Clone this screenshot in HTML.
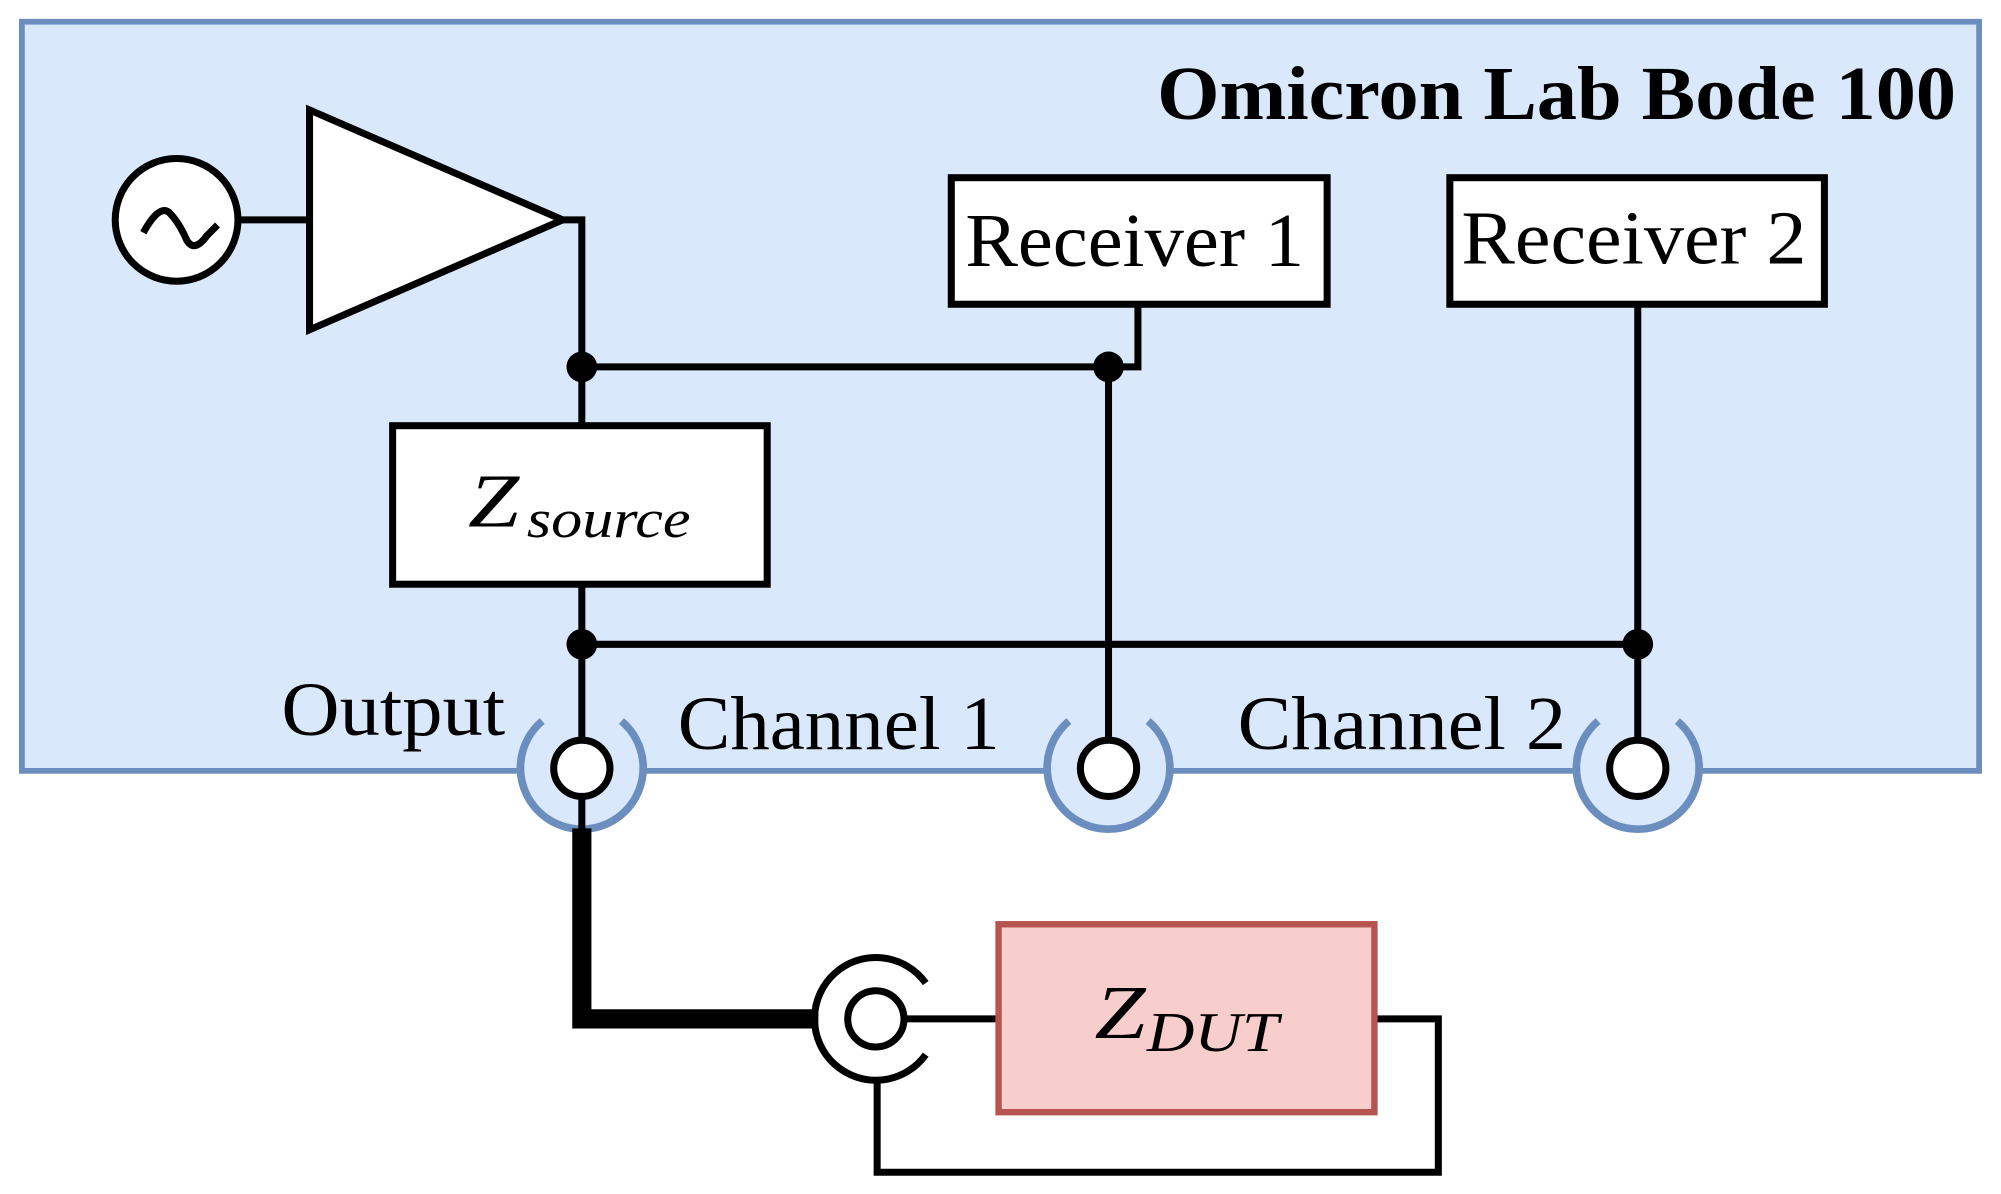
<!DOCTYPE html>
<html><head><meta charset="utf-8"><style>html,body{margin:0;padding:0;background:#fff}svg{display:block}</style></head>
<body>
<svg width="2001" height="1194" viewBox="0 0 1565 934" xmlns="http://www.w3.org/2000/svg" font-family="'Liberation Serif', serif">
<rect x="0" y="0" width="1565" height="934" fill="#fff"/>
<rect x="17" y="17" width="1531" height="586" fill="#dae8fc" stroke="#6c8ebf" stroke-width="4.5"/>
<text x="905" y="93" font-size="60" font-weight="bold" textLength="625" lengthAdjust="spacingAndGlyphs">Omicron Lab Bode 100</text>
<g>
<g transform="translate(455,601)"><circle r="48" fill="#dae8fc"/><path d="M-31 -37 A48 48 0 1 0 31 -37" fill="none" stroke="#6c8ebf" stroke-width="6"/></g>
<g transform="translate(867,601)"><circle r="48" fill="#dae8fc"/><path d="M-31 -37 A48 48 0 1 0 31 -37" fill="none" stroke="#6c8ebf" stroke-width="6"/></g>
<g transform="translate(1281,601)"><circle r="48" fill="#dae8fc"/><path d="M-31 -37 A48 48 0 1 0 31 -37" fill="none" stroke="#6c8ebf" stroke-width="6"/></g>
</g>
<g stroke="#000" stroke-width="5.5" fill="none">
<line x1="186" y1="172" x2="242" y2="172"/>
<circle cx="138" cy="172" r="48" fill="#fff"/>
<path d="M112 182 Q124 160 132 166 Q140 174 146 188 Q152 198 162 184 L170 176"/>
<polygon points="242,86 242,258 440,172" fill="#fff"/>
<polyline points="440,172 455,172 455,650"/>
<line x1="455" y1="287" x2="867" y2="287"/>
<polyline points="890,238 890,287 867,287 867,590"/>
<line x1="455" y1="504" x2="1281" y2="504"/>
<line x1="1281" y1="238" x2="1281" y2="590"/>
<rect x="744" y="139" width="294" height="99" fill="#fff"/>
<rect x="1134" y="139" width="293" height="99" fill="#fff"/>
<rect x="307" y="333" width="293" height="124" fill="#fff"/>
<circle cx="455" cy="601" r="22" fill="#fff"/>
<circle cx="867" cy="601" r="22" fill="#fff"/>
<circle cx="1281" cy="601" r="22" fill="#fff"/>
</g>
<g fill="#000"><circle cx="455" cy="287" r="12"/><circle cx="867" cy="287" r="12"/><circle cx="455" cy="504" r="12"/><circle cx="1281" cy="504" r="12"/></g>
<text x="755" y="208" font-size="60" textLength="265" lengthAdjust="spacingAndGlyphs">Receiver 1</text>
<text x="1143" y="206" font-size="60" textLength="270" lengthAdjust="spacingAndGlyphs">Receiver 2</text>
<text x="366" y="412" font-size="60" font-style="italic" textLength="40" lengthAdjust="spacingAndGlyphs">Z</text>
<text x="412" y="420" font-size="42" font-style="italic" textLength="128" lengthAdjust="spacingAndGlyphs">source</text>
<text x="220" y="575" font-size="60" textLength="175" lengthAdjust="spacingAndGlyphs">Output</text>
<text x="530" y="586" font-size="60" textLength="252" lengthAdjust="spacingAndGlyphs">Channel 1</text>
<text x="968" y="586" font-size="60" textLength="257" lengthAdjust="spacingAndGlyphs">Channel 2</text>
<polyline points="455,648 455,797 640,797" fill="none" stroke="#000" stroke-width="15"/>
<g stroke="#000" stroke-width="5.5" fill="none">
<path d="M724 769 A48 48 0 1 0 724 825"/>
<line x1="707" y1="797" x2="780" y2="797"/>
<polyline points="1075,797 1125,797 1125,917 686,917 686,845"/>
<circle cx="685" cy="797" r="22" fill="#fff"/>
</g>
<rect x="781" y="723" width="294" height="147" fill="#f8cecc" stroke="#b85450" stroke-width="5"/>
<text x="856" y="812" font-size="60" font-style="italic" textLength="40" lengthAdjust="spacingAndGlyphs">Z</text>
<text x="897" y="822" font-size="44" font-style="italic" textLength="103" lengthAdjust="spacingAndGlyphs">DUT</text>
</svg>
</body></html>
